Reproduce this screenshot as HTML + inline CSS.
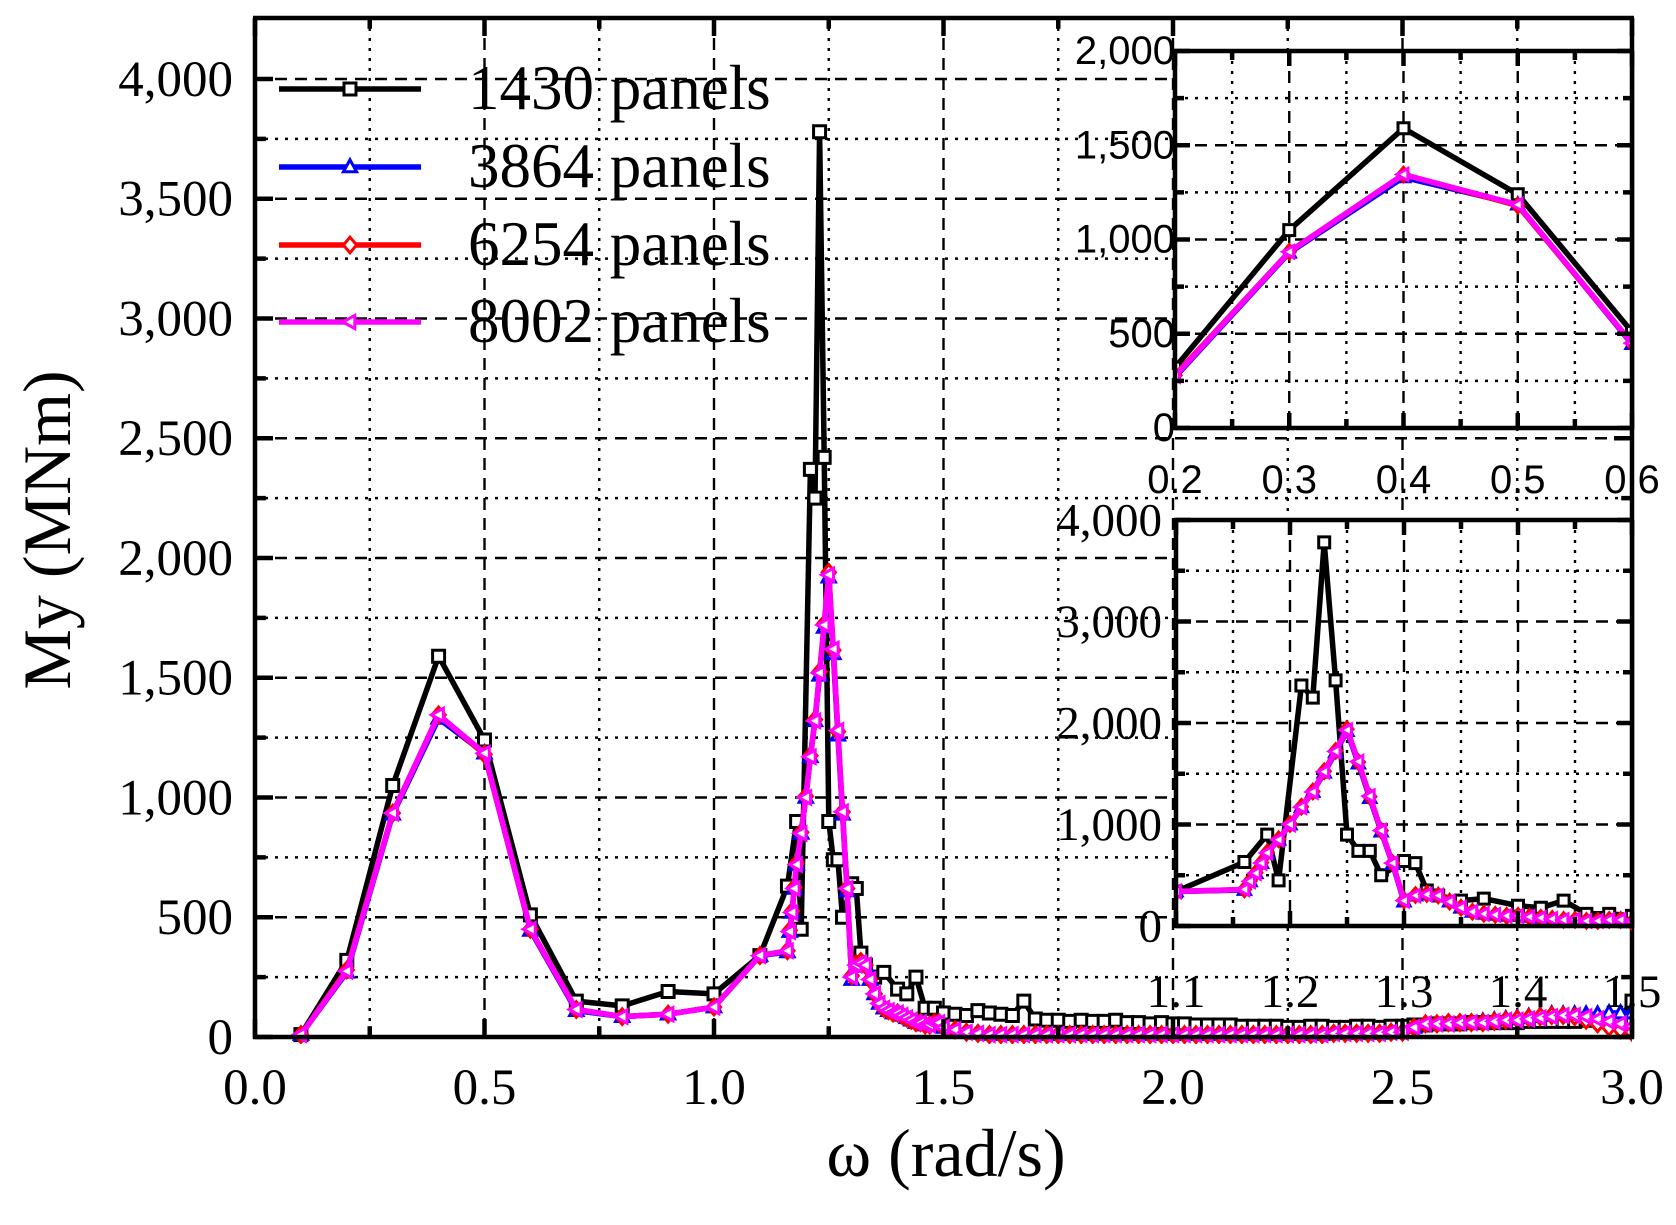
<!DOCTYPE html>
<html><head><meta charset="utf-8">
<style>
html,body{margin:0;padding:0;background:#fff;}
svg{display:block;}
text{font-family:"Liberation Serif",serif;fill:#000;}
.sans{font-family:"Liberation Sans",sans-serif;}
</style></head>
<body>
<svg id="chart" width="1676" height="1225" viewBox="0 0 1676 1225" xmlns="http://www.w3.org/2000/svg"></svg>
<script>
// ---- data ----
const seriesNames = ["1430 panels","3864 panels","6254 panels","8002 panels"];
const blackX = [0.1,0.2,0.3,0.4,0.5,0.6,0.7,0.8,0.9,1.0,1.1,1.16,1.18,1.19,1.21,1.22,1.23,1.24,1.25,1.26,1.27,1.28,1.3,1.31,1.32,1.33,1.35,1.37,1.4,1.42,1.44,1.46,1.48];
const blackHead = [10,320,1050,1590,1240,510,150,130,190,180,340,630,900,450,2370,2250,3780,2420,900,740,740,500,640,620,350,300,250,270,200,180,250,120,120];
const colX = [0.1,0.2,0.3,0.4,0.5,0.6,0.7,0.8,0.9,1.0,1.1,1.16,1.165,1.17,1.175,1.18,1.19,1.2,1.21,1.22,1.23,1.24,1.25,1.26,1.27,1.28,1.29,1.3,1.31,1.32,1.33,1.34,1.35,1.36,1.37,1.38,1.39,1.4,1.41,1.42,1.43,1.44,1.45,1.46,1.47,1.48,1.49];
const magHead = [10,275,935,1345,1185,450,115,85,95,125,340,360,440,520,620,720,850,1000,1170,1320,1520,1720,1930,1620,1280,940,620,250,300,310,300,240,180,140,120,110,100,100,90,80,70,60,60,50,50,60,60];
const blueHead = [10,270,930,1330,1185,445,110,85,95,125,340,355,440,520,620,720,850,1000,1170,1320,1510,1710,1920,1600,1260,930,610,240,300,310,300,240,180,140,120,110,100,100,90,80,70,60,60,50,50,60,60];
const redHead = [10,280,935,1345,1180,450,115,85,95,125,340,360,445,525,625,725,855,1005,1175,1325,1525,1725,1940,1615,1275,940,620,255,305,315,300,240,180,140,120,110,100,100,90,80,70,60,60,50,50,60,60];
const tailX = [1.5,1.525,1.55,1.575,1.6,1.625,1.65,1.675,1.7,1.725,1.75,1.775,1.8,1.825,1.85,1.875,1.9,1.925,1.95,1.975,2.0,2.025,2.05,2.075,2.1,2.125,2.15,2.175,2.2,2.225,2.25,2.275,2.3,2.325,2.35,2.375,2.4,2.425,2.45,2.475,2.5,2.525,2.55,2.575,2.6,2.625,2.65,2.675,2.7,2.725,2.75,2.775,2.8,2.825,2.85,2.875,2.9,2.925,2.95,2.975,3.0];
const blackTail = [100,95,90,110,100,95,90,150,75,70, 70,65,70,65,65,70,60,60,55,60, 55,55,50,50,50,50,45,45,45,45, 40,40,45,45,40,40,45,45,40,45, 45,50,50,55,55,55,60,60,60,60, 60,65,65,65,65,65,70,70,75,80, 150];
const magTail = [40,30,20,15,10,10,10,10,10,10, 10,10,10,10,10,10,10,10,10,10, 10,10,10,10,10,10,10,10,10,10, 10,10,10,10,15,15,15,15,15,20, 20,40,55,55,55,60,60,60,65,70, 70,75,80,85,90,90,85,75,65,55, 45];
const blueTail = [40,30,20,15,10,10,10,10,10,10, 10,10,10,10,10,10,10,10,10,10, 10,10,10,10,10,10,10,10,10,10, 10,10,10,10,15,15,15,15,15,20, 20,40,55,55,60,60,60,65,70,75, 80,85,90,95,95,95,95,95,100,100, 100];
const redTail = [40,30,20,15,10,10,10,10,10,10, 10,10,10,10,10,10,10,10,10,10, 10,10,10,10,10,10,10,10,10,10, 10,10,10,10,15,15,15,15,15,20, 20,40,55,55,60,60,60,60,65,70, 75,80,85,90,90,85,70,55,40,30, 20];
const mainXTicks = ["0.0","0.5","1.0","1.5","2.0","2.5","3.0"];
const mainYTicks = ["0","500","1,000","1,500","2,000","2,500","3,000","3,500","4,000"];
const in1XTicks = ["0.2","0.3","0.4","0.5","0.6"];
const in1YTicks = ["0","500","1,000","1,500","2,000"];
const in2XTicks = ["1.1","1.2","1.3","1.4","1.5"];
const in2YTicks = ["0","1,000","2,000","3,000","4,000"];

const NS="http://www.w3.org/2000/svg";
const svg=document.getElementById('chart');
function mk(tag,attrs,parent){const e=document.createElementNS(NS,tag);for(const k in attrs)e.setAttribute(k,attrs[k]);(parent||svg).appendChild(e);return e;}

const series=[
 {name:'series-1430-panels',color:'#000',marker:'square',x:blackX.concat(tailX),y:blackHead.concat(blackTail)},
 {name:'series-3864-panels',color:'#0000ff',marker:'triup',x:colX.concat(tailX),y:blueHead.concat(blueTail)},
 {name:'series-6254-panels',color:'#ff0000',marker:'diamond',x:colX.concat(tailX),y:redHead.concat(redTail)},
 {name:'series-8002-panels',color:'#ff00ff',marker:'trileft',x:colX.concat(tailX),y:magHead.concat(magTail)}
];

function marker(g,type,cx,cy,s,color){
  let d;
  if(type==='square')d=`M${cx-s},${cy-s}h${2*s}v${2*s}h${-2*s}z`;
  else if(type==='triup')d=`M${cx},${cy-s*1.2}L${cx+s*1.1},${cy+s*0.8}L${cx-s*1.1},${cy+s*0.8}z`;
  else if(type==='diamond')d=`M${cx},${cy-s*1.3}L${cx+s*1.1},${cy}L${cx},${cy+s*1.3}L${cx-s*1.1},${cy}z`;
  else d=`M${cx-s*1.2},${cy}L${cx+s*0.8},${cy-s*1.1}L${cx+s*0.8},${cy+s*1.1}z`;
  const p=mk('path',{d:d,fill:'#fff',stroke:color,'stroke-width':3},g);
  
  
}

function panel(cfg){
  const {name,L,R,T,B,x0,x1,y0,y1,xMaj,xMin,yMaj,yMin,xLabels,yLabels,fs,xlY,ylX,sans,top}=cfg;
  const g=mk('g',{});
  
  
  const sx=v=>L+(v-x0)/(x1-x0)*(R-L);
  const sy=v=>B-(v-y0)/(y1-y0)*(B-T);
  if(cfg.bg){mk('rect',{x:L,y:top,width:R-L,height:B-top,fill:'#fff'},g);}
  const gt=top;
  const grid=mk('g',{},g);
  
  
  for(let v=x0+xMin;v<x1-1e-9;v+=xMin){
    const isMaj=Math.abs(Math.round((v-x0)/xMaj)*xMaj-(v-x0))<1e-6;
    mk('line',{x1:sx(v),x2:sx(v),y1:gt,y2:B,stroke:'#000','stroke-width':2.4,'stroke-dasharray':isMaj?'12,8':'3,7'},grid);
  }
  for(let v=y0+yMin;v<=y1+1e-9;v+=yMin){
    const isMaj=Math.abs(Math.round((v-y0)/yMaj)*yMaj-(v-y0))<1e-6;
    if(sy(v)<gt-1)continue;
    mk('line',{x1:L,x2:R,y1:sy(v),y2:sy(v),stroke:'#000','stroke-width':2.4,'stroke-dasharray':isMaj?'12,8':'3,7'},grid);
  }
  const cid='clip-'+name;
  const cp=mk('clipPath',{id:cid},g);mk('rect',{x:L,y:gt,width:R-L,height:B-gt+7},cp);
  const sg=mk('g',{'clip-path':`url(#${cid})`},g);
  series.forEach(s=>{
    const sgg=mk('g',{},sg);
    
    
    let pts=[];
    for(let i=0;i<Math.min(s.x.length,s.y.length);i++)pts.push(sx(s.x[i]).toFixed(1)+','+sy(s.y[i]).toFixed(1));
    mk('polyline',{points:pts.join(' '),fill:'none',stroke:s.color,'stroke-width':5.5,'stroke-linejoin':'round'},sgg);
    for(let i=0;i<Math.min(s.x.length,s.y.length);i++){
      if(s.x[i]<x0-0.02||s.x[i]>x1+0.02)continue;
      marker(sgg,s.marker,sx(s.x[i]),sy(s.y[i]),cfg.ms,s.color);
    }
  });
  mk('line',{x1:L,x2:L,y1:top,y2:B+2,stroke:'#000','stroke-width':4.5},g);
  mk('line',{x1:L-2,x2:R+2,y1:B,y2:B,stroke:'#000','stroke-width':4.5},g);
  mk('line',{x1:R,x2:R,y1:top,y2:B+2,stroke:'#000','stroke-width':4.5},g);
  mk('line',{x1:L-2,x2:R+2,y1:top,y2:top,stroke:'#000','stroke-width':4.5},g);
  for(let v=x0;v<=x1+1e-9;v+=xMin){
    const isMaj=Math.abs(Math.round((v-x0)/xMaj)*xMaj-(v-x0))<1e-6;
    const len=isMaj?cfg.tl:cfg.tl*0.6;
    mk('line',{x1:sx(v),x2:sx(v),y1:B,y2:B-len,stroke:'#000','stroke-width':4.5},g);
    mk('line',{x1:sx(v),x2:sx(v),y1:top,y2:top+len,stroke:'#000','stroke-width':4.5},g);
  }
  for(let v=y0;v<=y1+1e-9;v+=yMin){
    const isMaj=Math.abs(Math.round((v-y0)/yMaj)*yMaj-(v-y0))<1e-6;
    const len=isMaj?cfg.tl:cfg.tl*0.6;
    mk('line',{x1:L,x2:L+len,y1:sy(v),y2:sy(v),stroke:'#000','stroke-width':4.5},g);
    mk('line',{x1:R,x2:R-len,y1:sy(v),y2:sy(v),stroke:'#000','stroke-width':4.5},g);
  }
  xLabels.forEach((t,i)=>{
    const e=mk('text',{x:sx(x0+i*xMaj),y:xlY,'font-size':fs,'text-anchor':'middle'},g);
    if(sans)e.setAttribute('class','sans');
    e.textContent=t;
    
    
  });
  yLabels.forEach((t,i)=>{
    const e=mk('text',{x:ylX,y:sy(y0+i*yMaj)+fs*0.33,'font-size':fs,'text-anchor':'end'},g);
    if(sans)e.setAttribute('class','sans');
    e.textContent=t;
    
    
  });
  return g;
}

panel({name:'main-plot',L:255,R:1632,T:79,B:1037,top:18,x0:0,x1:3,y0:0,y1:4000,xMaj:0.5,xMin:0.25,yMaj:500,yMin:250,
  xLabels:mainXTicks,yLabels:mainYTicks,fs:51,xlY:1104,ylX:233,ms:6,tl:18});
panel({name:'inset-low-frequency',bg:true,L:1175,R:1632,T:51,B:428,top:51,x0:0.2,x1:0.6,y0:0,y1:2000,xMaj:0.1,xMin:0.05,yMaj:500,yMin:250,
  xLabels:in1XTicks,yLabels:in1YTicks,fs:40,xlY:493,ylX:1175,sans:true,ms:5.5,tl:15});
panel({name:'inset-resonance',bg:true,L:1176,R:1632,T:520,B:926,top:520,x0:1.1,x1:1.5,y0:0,y1:4000,xMaj:0.1,xMin:0.05,yMaj:1000,yMin:500,
  xLabels:in2XTicks,yLabels:in2YTicks,fs:47,xlY:1007,ylX:1162,ms:5.5,tl:15});

const lg=mk('g',{});


const lys=[89,167,245,322];
series.forEach((s,i)=>{
  const e=mk('g',{},lg);
  
  
  mk('line',{x1:279,x2:421,y1:lys[i],y2:lys[i],stroke:s.color,'stroke-width':5.5},e);
  marker(e,s.marker,350,lys[i],6,s.color);
  const t=mk('text',{x:468,y:lys[i]+20,'font-size':63},e);
  t.textContent=seriesNames[i];
});

const xt=mk('text',{x:946,y:1176,'font-size':68,'text-anchor':'middle'});
xt.textContent='ω (rad/s)';


const yt=mk('text',{x:0,y:0,'font-size':68,'text-anchor':'middle',transform:'translate(70,530) rotate(-90)'});
yt.textContent='My (MNm)';


</script>
</body></html>
